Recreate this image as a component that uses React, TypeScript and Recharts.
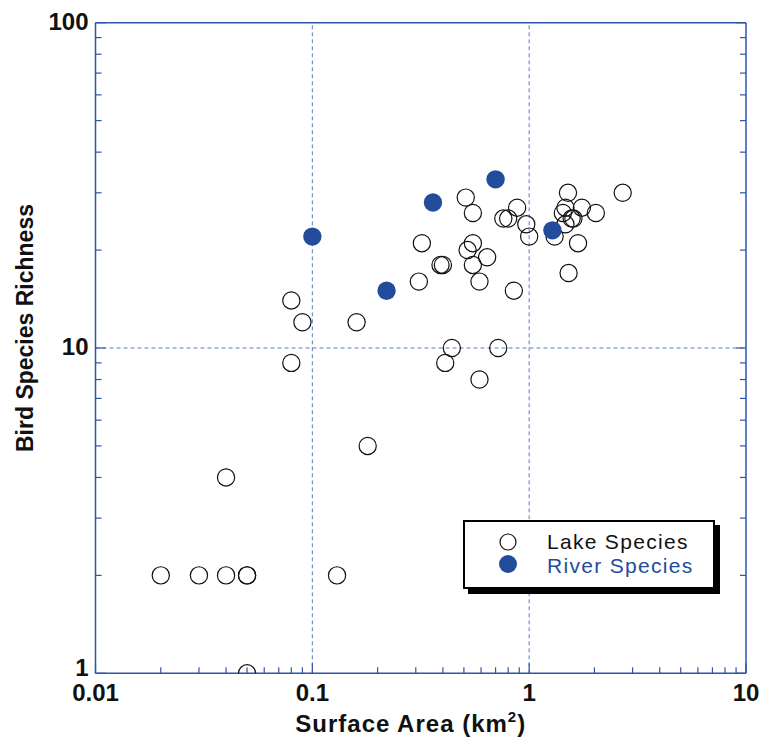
import React from "react";
import {
  ScatterChart,
  Scatter,
  XAxis,
  YAxis,
  ReferenceLine,
  Legend,
  Label,
} from "recharts";

// values
const lakeArea = [
  0.02, 0.03, 0.04, 0.05, 0.05, 0.13, 0.04, 0.05, 0.18, 0.08, 0.09, 0.16, 0.08,
  0.51, 0.55, 0.88, 0.76, 0.8, 0.97, 1.0, 0.32, 0.55, 0.52, 0.64, 0.39, 0.4,
  0.55, 0.31, 0.59, 0.85, 0.44, 0.72, 0.41, 0.59, 1.51, 2.7, 1.47, 1.75, 1.43,
  2.03, 1.57, 1.6, 1.47, 1.31, 1.68, 1.52,
];
const lakeRichness = [
  2, 2, 2, 2, 2, 2, 4, 1, 5, 14, 12, 12, 9, 29, 26, 27, 25, 25, 24, 22, 21, 21,
  20, 19, 18, 18, 18, 16, 16, 15, 10, 10, 9, 8, 30, 30, 27, 27, 26, 26, 25, 25,
  24, 22, 21, 17,
];
const riverArea = [0.1, 0.22, 0.36, 0.7, 1.28];
const riverRichness = [22, 15, 28, 33, 23];

const xDecades = [0.01, 0.1, 1, 10];
const yDecades = [1, 10, 100];
const minorSteps = [2, 3, 4, 5, 6, 7, 8, 9];

const BLUE = "#234c9c";
const AXIS = "#2f54a8";
const GRID = "#5a7cc4";
const FONT = "'Liberation Sans', Arial, Helvetica, sans-serif";

const lakeData = lakeArea.map((x, i) => ({ x, y: lakeRichness[i] }));
const riverData = riverArea.map((x, i) => ({ x, y: riverRichness[i] }));

const withMinors = (decades: number[]) => {
  const out: number[] = [];
  decades.forEach((d, i) => {
    out.push(d);
    if (i < decades.length - 1) minorSteps.forEach((m) => out.push(+(d * m).toPrecision(3)));
  });
  return out;
};
const xTicks = withMinors(xDecades);
const yTicks = withMinors(yDecades);
const isMajor = (v: number, decades: number[]) =>
  decades.some((d) => Math.abs(d - v) < d * 1e-6);

const fmt = (v: number) => String(v);

const BottomTick = (p: any) => {
  const major = isMajor(p.payload.value, xDecades);
  return (
    <g>
      <line x1={p.x} x2={p.x} y1={p.y} y2={p.y - (major ? 10 : 6)} stroke={AXIS} strokeWidth={1.2} />
      {major && (
        <text x={p.x} y={p.y + 28} textAnchor="middle" fontFamily={FONT} fontWeight="bold" fontSize={24} fill="#111">
          {fmt(p.payload.value)}
        </text>
      )}
    </g>
  );
};
const TopTick = (p: any) => {
  const major = isMajor(p.payload.value, xDecades);
  return <line x1={p.x} x2={p.x} y1={p.y} y2={p.y + (major ? 10 : 6)} stroke={AXIS} strokeWidth={1.2} />;
};
const LeftTick = (p: any) => {
  const major = isMajor(p.payload.value, yDecades);
  // the lowest label sits a little higher, clear of the 0.01 below it
  const dy = p.payload.value === yDecades[0] ? 3 : 7;
  return (
    <g>
      <line x1={p.x} x2={p.x + (major ? 10 : 6)} y1={p.y} y2={p.y} stroke={AXIS} strokeWidth={1.2} />
      {major && (
        <text x={p.x - 7} y={p.y + dy} textAnchor="end" fontFamily={FONT} fontWeight="bold" fontSize={24} fill="#111">
          {fmt(p.payload.value)}
        </text>
      )}
    </g>
  );
};
const RightTick = (p: any) => {
  const major = isMajor(p.payload.value, yDecades);
  return <line x1={p.x} x2={p.x - (major ? 10 : 6)} y1={p.y} y2={p.y} stroke={AXIS} strokeWidth={1.2} />;
};

const OpenDot = (p: any) => (
  <circle cx={p.cx} cy={p.cy} r={8.6} fill="none" stroke="#111" strokeWidth={1.2} />
);
const FilledDot = (p: any) => <circle cx={p.cx} cy={p.cy} r={9.2} fill={BLUE} />;

const LegendBox = () => (
  <div
    style={{
      position: "relative",
      width: 248,
      height: 65,
      border: "2px solid #000",
      background: "#fff",
      boxShadow: "5px 5px 0 #000",
      fontFamily: FONT,
      fontSize: 21,
      letterSpacing: 1.3,
    }}
  >
    <svg width={30} height={60} style={{ position: "absolute", left: 28, top: 4 }}>
      <circle cx={15} cy={16} r={8} fill="#fff" stroke="#111" strokeWidth={1.2} />
      <circle cx={15} cy={38} r={9} fill={BLUE} />
    </svg>
    <div style={{ position: "absolute", left: 82, top: 8, lineHeight: "23px", color: "#111" }}>Lake Species</div>
    <div style={{ position: "absolute", left: 82, top: 32, lineHeight: "23px", color: BLUE }}>River Species</div>
  </div>
);

export default function App() {
  return (
    <div style={{ position: "absolute", left: 0, top: 0, background: "#fff" }}>
      <ScatterChart width={765} height={745} margin={{ top: 21.7, right: 18, bottom: 70.7, left: 94.5 }}>
        <XAxis
          xAxisId="b"
          dataKey="x"
          type="number"
          scale="log"
          domain={[0.01, 10]}
          allowDataOverflow
          ticks={xTicks}
          interval={0}
          height={1}
          tickSize={0}
          tickMargin={0}
          tickLine={false}
          tick={BottomTick}
          axisLine={{ stroke: AXIS, strokeWidth: 1.5 }}
        >
          <Label
            content={(props: any) => {
              const vb = props.viewBox;
              return (
                <text
                  x={vb.x + vb.width / 2 - 10}
                  y={vb.y + 59}
                  textAnchor="middle"
                  fontFamily={FONT}
                  fontWeight="bold"
                  fontSize={24}
                  letterSpacing={1}
                  fill="#111"
                >
                  Surface Area (km
                  <tspan fontSize={15} dy={-10}>2</tspan>
                  <tspan dy={10}>)</tspan>
                </text>
              );
            }}
          />
        </XAxis>
        <XAxis
          xAxisId="t"
          orientation="top"
          type="number"
          scale="log"
          domain={[0.01, 10]}
          allowDataOverflow
          ticks={xTicks}
          interval={0}
          height={1}
          tickSize={0}
          tickMargin={0}
          tickLine={false}
          tick={TopTick}
          axisLine={{ stroke: AXIS, strokeWidth: 1.5 }}
        />
        <YAxis
          yAxisId="l"
          dataKey="y"
          type="number"
          scale="log"
          domain={[1, 100]}
          allowDataOverflow
          ticks={yTicks}
          interval={0}
          width={1}
          tickSize={0}
          tickMargin={0}
          tickLine={false}
          tick={LeftTick}
          axisLine={{ stroke: AXIS, strokeWidth: 1.5 }}
        >
          <Label
            content={(props: any) => {
              const vb = props.viewBox;
              const cy = vb.y + vb.height / 2 - 20;
              return (
                <text
                  x={33}
                  y={cy}
                  transform={`rotate(-90 33 ${cy})`}
                  textAnchor="middle"
                  fontFamily={FONT}
                  fontWeight="bold"
                  fontSize={23}
                  fill="#111"
                >
                  Bird Species Richness
                </text>
              );
            }}
          />
        </YAxis>
        <YAxis
          yAxisId="r"
          orientation="right"
          type="number"
          scale="log"
          domain={[1, 100]}
          allowDataOverflow
          ticks={yTicks}
          interval={0}
          width={1}
          tickSize={0}
          tickMargin={0}
          tickLine={false}
          tick={RightTick}
          axisLine={{ stroke: AXIS, strokeWidth: 1.5 }}
        />
        <ReferenceLine xAxisId="b" yAxisId="l" x={0.1} stroke={GRID} strokeDasharray="4 3" />
        <ReferenceLine xAxisId="b" yAxisId="l" x={1} stroke={GRID} strokeDasharray="4 3" />
        <ReferenceLine xAxisId="b" yAxisId="l" y={10} stroke={GRID} strokeDasharray="4 3" />
        <Scatter
          name="Lake Species"
          xAxisId="b"
          yAxisId="l"
          data={lakeData}
          shape={OpenDot}
          isAnimationActive={false}
        />
        <Scatter
          name="River Species"
          xAxisId="b"
          yAxisId="l"
          data={riverData}
          fill={BLUE}
          shape={FilledDot}
          isAnimationActive={false}
        />
        <Legend
          layout="vertical"
          verticalAlign="middle"
          align="center"
          wrapperStyle={{ left: 463, top: 520, width: 252, height: 70 }}
          content={() => <LegendBox />}
        />
      </ScatterChart>
    </div>
  );
}
